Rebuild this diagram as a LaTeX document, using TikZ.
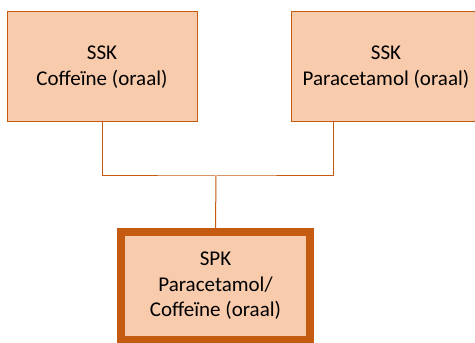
\documentclass[tikz,border=0pt]{standalone}
\usepackage{fontspec}
\setmainfont{Carlito}
\definecolor{boxfill}{HTML}{F8CBAD}
\definecolor{boxline}{HTML}{C55A11}
\begin{document}
\begin{tikzpicture}[x=1pt,y=1pt,
  sskbox/.style={draw=boxline, fill=boxfill, line width=1pt,
    minimum width=190pt, minimum height=110pt, inner sep=0pt,
    align=center, font=\fontsize{21}{25.5}\selectfont},
  spkbox/.style={sskbox, line width=8pt,
    minimum width=189pt, minimum height=108pt},
  link/.style={draw=boxline, line width=1pt}]
\useasboundingbox (0,0) rectangle (475,343);
% source products
\node[sskbox] (caf) at (102,276) {SSK\\Coffeïne (oraal)};
\node[sskbox] (par) at (386,276) {SSK\\Paracetamol (oraal)};
% combined product
\node[spkbox] (spk) at (215.5,57) {SPK\\Paracetamol/\\Coffeïne (oraal)};
% junction points
\coordinate (join) at (216,167);
\coordinate (parfoot) at (333,221);
\draw[link] (caf.south) |- (join) -| (parfoot);
\draw[link] (join) -- (spk.north);
\end{tikzpicture}
\end{document}
